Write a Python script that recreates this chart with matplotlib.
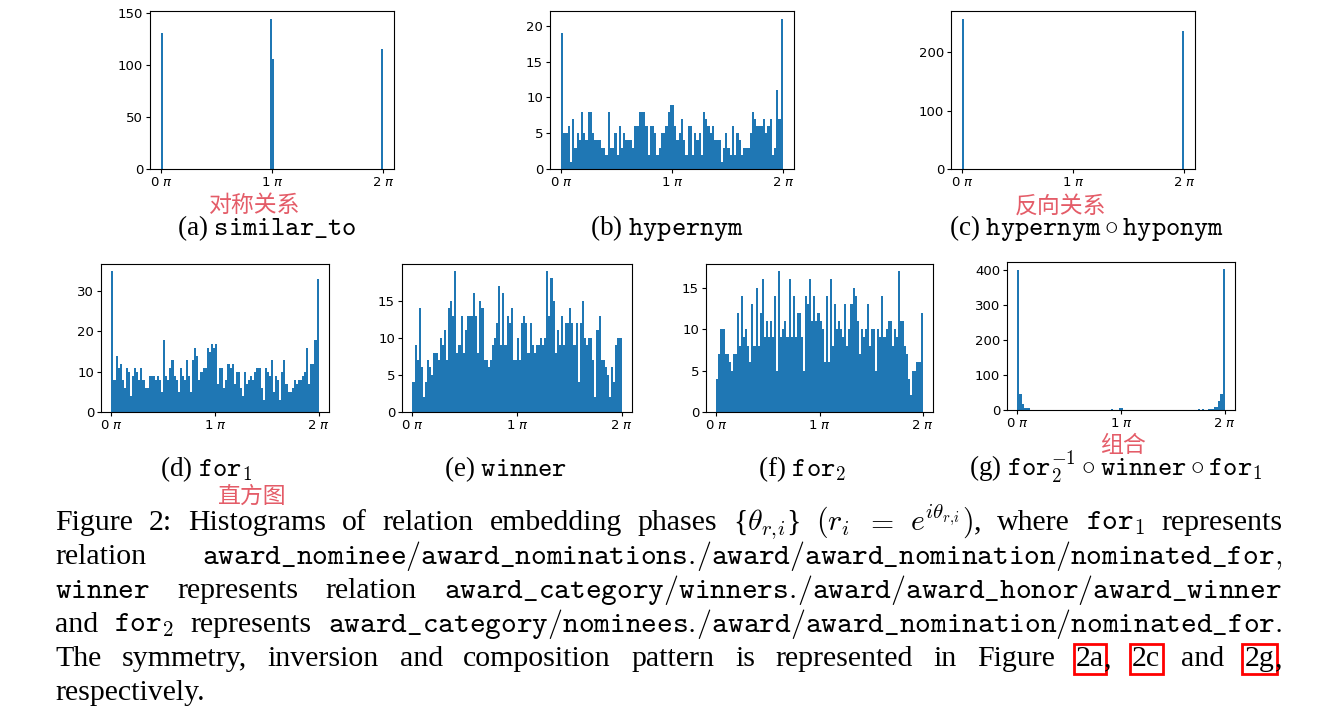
import numpy as np
import matplotlib
matplotlib.use("Agg")
import matplotlib.pyplot as plt

# counts per bin, 100 bins over [0, 2pi]
similar_to = {0: 131, 49: 145, 50: 106, 99: 116}   # non-empty bins only
hypernym = [19, 5, 5, 6, 1, 7, 3, 5, 4, 8,
            5, 4, 8, 8, 5, 4, 4, 4, 3, 3,
            2, 8, 3, 3, 5, 2, 6, 3, 5, 4,
            4, 4, 3, 6, 6, 8, 8, 8, 6, 2,
            6, 6, 5, 2, 3, 5, 5, 6, 8, 9,
            9, 6, 4, 5, 7, 4, 2, 6, 6, 2,
            5, 4, 5, 2, 8, 7, 6, 5, 6, 4,
            4, 4, 1, 3, 5, 3, 2, 6, 2, 5,
            4, 2, 3, 3, 3, 5, 8, 7, 6, 6,
            6, 7, 5, 6, 7, 2, 3, 11, 7, 21]
hyper_hypo = {0: 258, 99: 236}
for1 = [35, 8, 14, 11, 12, 8, 6, 11, 10, 4,
        9, 11, 10, 8, 11, 8, 6, 6, 9, 9,
        9, 8, 9, 8, 5, 18, 9, 8, 11, 13,
        9, 8, 5, 11, 9, 8, 13, 9, 5, 13,
        16, 14, 8, 10, 11, 11, 16, 15, 17, 16,
        17, 7, 11, 11, 6, 8, 12, 11, 12, 7,
        10, 10, 6, 4, 10, 7, 8, 9, 8, 10,
        11, 11, 6, 3, 11, 10, 9, 13, 5, 9,
        8, 3, 10, 13, 7, 5, 5, 6, 8, 7,
        8, 8, 9, 10, 16, 7, 12, 12, 18, 33]
winner = [4, 9, 7, 14, 6, 2, 4, 7, 6, 5,
          8, 8, 7, 10, 9, 11, 7, 14, 15, 13,
          19, 8, 9, 13, 8, 11, 13, 13, 13, 16,
          13, 8, 15, 14, 7, 7, 6, 7, 9, 10,
          12, 17, 9, 16, 9, 13, 12, 14, 7, 7,
          10, 7, 12, 13, 12, 8, 12, 9, 8, 9,
          9, 10, 9, 10, 19, 13, 18, 15, 8, 11,
          9, 13, 9, 12, 12, 14, 12, 9, 12, 4,
          12, 15, 10, 9, 10, 10, 7, 2, 11, 13,
          7, 7, 6, 5, 2, 6, 4, 9, 10, 10]
for2 = [4, 7, 10, 10, 7, 7, 6, 5, 7, 7,
        12, 8, 14, 9, 10, 8, 6, 13, 8, 15,
        8, 12, 16, 9, 11, 9, 11, 9, 14, 5,
        17, 9, 10, 11, 9, 16, 9, 14, 9, 12,
        12, 9, 5, 14, 13, 16, 11, 14, 11, 12,
        11, 10, 6, 14, 6, 16, 8, 13, 10, 11,
        10, 9, 13, 8, 10, 13, 15, 14, 11, 7,
        10, 9, 10, 13, 8, 10, 10, 5, 10, 9,
        14, 9, 10, 11, 11, 8, 10, 9, 17, 11,
        11, 8, 7, 4, 2, 5, 5, 6, 6, 12]
composed = [400, 45, 16, 5, 5, 5, 1, 1, 1, 1,
            1, 1, 1, 1, 1, 1, 0, 1, 1, 0,
            1, 0, 1, 0, 0, 1, 0, 0, 1, 0,
            0, 0, 0, 0, 0, 0, 0, 0, 0, 0,
            0, 0, 0, 0, 0, 4, 0, 0, 1, 7,
            7, 1, 0, 0, 0, 0, 1, 0, 0, 0,
            0, 0, 0, 0, 0, 0, 0, 0, 0, 0,
            0, 0, 0, 0, 0, 0, 0, 0, 0, 1,
            1, 0, 0, 0, 0, 1, 1, 2, 1, 4,
            1, 1, 2, 2, 3, 10, 8, 25, 47, 403]

xtick_labels = ["0 $\\pi$", "1 $\\pi$", "2 $\\pi$"]

W, H = 1340, 720
RED = "#e45c68"
SERIF = "Liberation Serif"

edges = np.linspace(0, 2 * np.pi, 101)
centers = (edges[:-1] + edges[1:]) / 2


def dense(d):
    out = np.zeros(100)
    for k, v in d.items():
        out[k] = v
    return out


fig = plt.figure(figsize=(W / 100, H / 100), dpi=100)
renderer = fig.canvas.get_renderer()


def panel(l, t, r, b, counts, yticks):
    ax = fig.add_axes([l / W, 1 - b / H, (r - l) / W, (b - t) / H])
    ax.hist(centers, bins=edges, weights=counts, color="#1f77b4")
    ax.set_xticks([0, np.pi, 2 * np.pi], xtick_labels)
    ax.set_yticks(yticks)
    ax.tick_params(labelsize=9.5, length=3, width=0.8, pad=2)
    for s in ax.spines.values():
        s.set_linewidth(0.8)
    return ax


panel(150, 11, 394, 169, dense(similar_to), [0, 50, 100, 150])
panel(550, 11, 794, 169, hypernym, [0, 5, 10, 15, 20])
panel(951, 11, 1195, 169, dense(hyper_hypo), [0, 100, 200])
panel(101, 264, 329, 412, for1, [0, 10, 20, 30])
panel(402, 264, 632, 412, winner, [0, 5, 10, 15])
panel(706, 264, 933, 412, for2, [0, 5, 10, 15])
panel(1007, 262, 1235, 410, composed, [0, 100, 200, 300, 400])


def put(x, y, s, **kw):
    return fig.text(x / W, 1 - y / H, s, **kw)


# sub-captions
sub = dict(family=SERIF, math_fontfamily="cm", fontsize=19.5, ha="center", va="baseline")
put(267, 235, r"(a) $\mathtt{similar\_to}$", **sub)
put(667, 235, r"(b) $\mathtt{hypernym}$", **sub)
put(1087, 235, r"(c) $\mathtt{hypernym}\circ\mathtt{hyponym}$", **sub)
put(206, 476, r"(d) $\mathtt{for}_1$", **sub)
put(506, 476, r"(e) $\mathtt{winner}$", **sub)
put(802, 476, r"(f) $\mathtt{for}_2$", **sub)
put(1116, 476, r"(g) $\mathtt{for}_2^{-1}\circ\mathtt{winner}\circ\mathtt{for}_1$", **sub)

# red notes written over the figure
note = dict(family=["Noto Sans CJK SC", "DejaVu Sans"], color=RED, fontsize=16.5,
            ha="center", va="center")
put(255, 205, "对称关系", **note)
put(1060, 206, "反向关系", **note)
put(1123, 446, "组合", **note)
put(252, 496, "直方图", **note)

# caption, justified between x0 and x1
cap = dict(family=SERIF, math_fontfamily="cm", fontsize=21.5, va="baseline", ha="left")
box = dict(boxstyle="square,pad=0.08", fc="none", ec="red", lw=2)


def line(tokens, y, x0=55, x1=1282, justify=True):
    items = []
    for tok in tokens:
        if isinstance(tok, str):
            tok = (tok, False, False)
        s, glue, boxed = tok
        kw = dict(cap)
        if boxed:
            kw["bbox"] = box
        t = put(0, y, s, **kw)
        items.append((t, glue, t.get_window_extent(renderer).width))
    ngaps = sum(1 for _, g, _ in items[1:] if not g)
    total = sum(w for _, _, w in items)
    gap = (x1 - x0 - total) / ngaps if (justify and ngaps) else 6.5
    x = x0
    for i, (t, g, w) in enumerate(items):
        if i > 0 and not g:
            x += gap
        t.set_x(x / W)
        x += w


line(["Figure", "2:", "Histograms", "of", "relation", "embedding", "phases",
      r"{$\theta_{r,\!i}$}", r"$(r_i$", "$=$", r"$e^{i\theta_{r,\!i}})$,", "where",
      r"$\mathtt{for}_1$", "represents"], 530)
line(["relation",
      r"$\mathtt{award\_nominee/award\_nominations.\!/award/award\_nomination/nominated\_for,}$"],
     564)
line([r"$\mathtt{winner}$", "represents", "relation",
      r"$\mathtt{award\_category/winners.\!/award/award\_honor/award\_winner}$"], 598)
line(["and", r"$\mathtt{for}_2$", "represents",
      r"$\mathtt{award\_category/nominees.\!/award/award\_nomination/nominated\_for.}$"], 632)
line(["The", "symmetry,", "inversion", "and", "composition", "pattern", "is",
      "represented", "in", "Figure", ("2a", False, True), (",", True, False),
      ("2c", False, True), "and", ("2g", False, True), (",", True, False)], 666)
line(["respectively."], 700, justify=False)

fig.savefig("out.png", dpi=100)
